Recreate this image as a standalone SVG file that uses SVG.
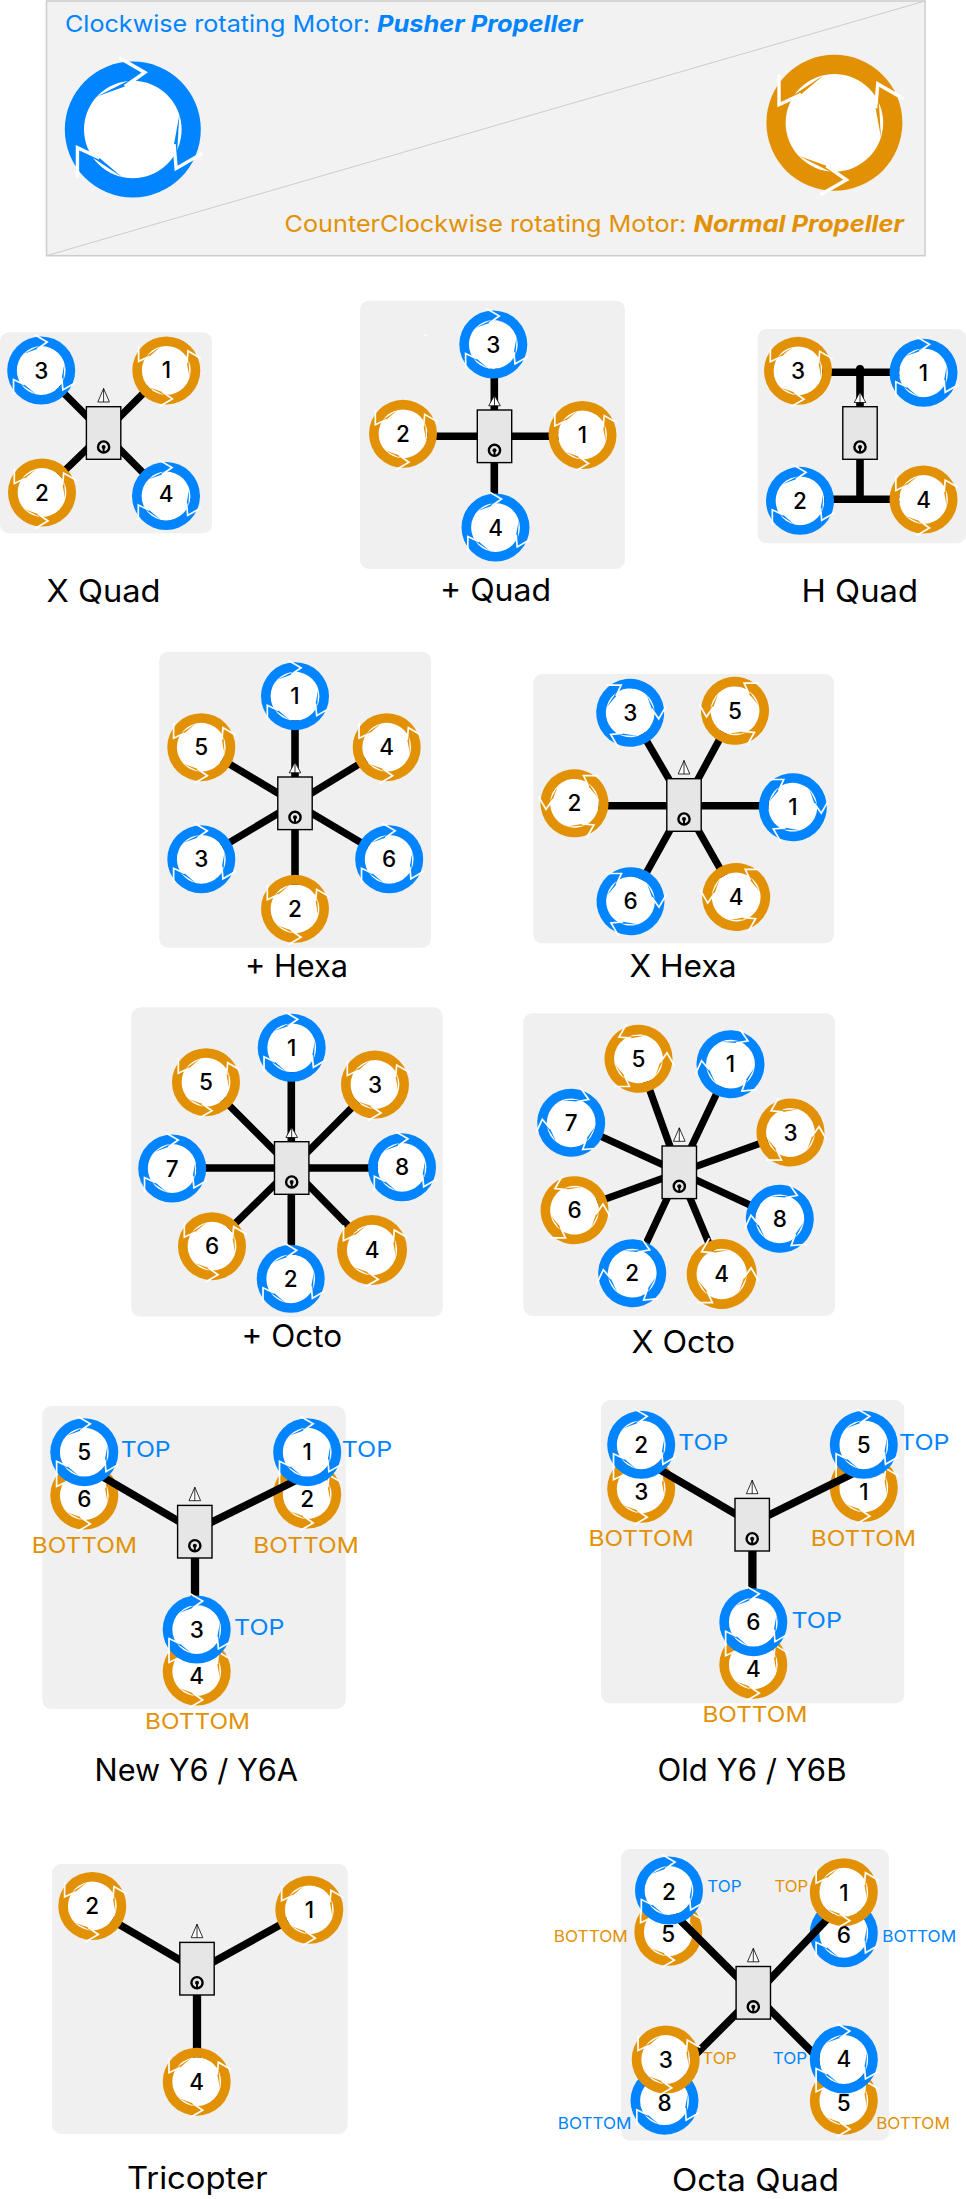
<svg xmlns="http://www.w3.org/2000/svg" width="966" height="2199" viewBox="0 0 966 2199">
<style>
text{font-family:"Inter","Liberation Sans",sans-serif}
.p{fill:#f0f0f0}
.b{fill:#0084ff}
.o{fill:#e29105}
.n{font-size:22.5px;font-weight:500;text-anchor:middle;fill:#000}
.l{font-size:30.5px;fill:#000}
.t{font-size:21.5px}
.s{font-size:16.5px}
.h{font-size:23px}
.bi{font-weight:700;font-style:italic}
.a{stroke:#000;stroke-width:7.2;fill:none}
.k{stroke:#000;stroke-width:7.6;fill:none}
.v{stroke:#000;stroke-width:8.3;fill:none}
</style>
<defs>
<g id="seg"><path d="M-4,-21.5L6,-28.5L-18,-16.5Z"/><path d="M-7,-36L6,-28.5L-4,-21.5" fill="none" stroke="#fff" stroke-width="1.7"/></g>
<g id="rg"><circle r="24.4" fill="#fff"/><path fill-rule="evenodd" d="M0,-34A34,34 0 1 1 0,34A34,34 0 1 1 0,-34ZM0,-24.4A24.4,24.4 0 1 0 0,24.4A24.4,24.4 0 1 0 0,-24.4Z"/><use href="#seg"/><use href="#seg" transform="rotate(120)"/><use href="#seg" transform="rotate(240)"/></g>
<g id="cw"><use href="#rg" class="b"/></g>
<g id="ccw"><use href="#rg" class="o" transform="scale(1 -1)"/></g>
<g id="fc"><rect x="-17.2" y="-26.3" width="34.4" height="52.6" fill="#e6e6e6" stroke="#000" stroke-width="1.4"/><circle cy="14" r="5.6" fill="#e6e6e6" stroke="#000" stroke-width="2.4"/><path d="M0,14V19.5" stroke="#000" stroke-width="2"/><circle cy="14" r="2"/></g>
<g id="tri"><path d="M0,-44.5L-5.8,-31H5.8ZM0,-44.5V-31" fill="#fff" stroke="#000" stroke-width="0.8"/></g>
<g id="trp"><path d="M0,-41L-5.8,-30.5H5.8ZM0,-41V-30.5" fill="#fff" stroke="#000" stroke-width="0.8"/></g>
</defs>
<g id="panels">
<rect x="46.5" y="1" width="878.5" height="254.7" fill="#f2f2f2" stroke="#ccc" stroke-width="1.5"/>
<path d="M46.5,255.7L925,1" stroke="#ccc" stroke-width="1" fill="none"/>
<rect class="p" x="0" y="332.3" width="212" height="201" rx="9"/>
<rect class="p" x="360" y="300.7" width="265" height="268.3" rx="9"/>
<circle cx="425.7" cy="335.3" r="1.3" fill="#fff"/>
<rect class="p" x="757.7" y="329" width="208.3" height="214.3" rx="9"/>
<rect class="p" x="159.3" y="651.7" width="271.7" height="296" rx="9"/>
<rect class="p" x="533.3" y="674" width="300.7" height="269.3" rx="9"/>
<rect class="p" x="131.3" y="1007.3" width="311.4" height="309.4" rx="9"/>
<rect class="p" x="523.3" y="1013.3" width="311.7" height="302.7" rx="9"/>
<rect class="p" x="42.3" y="1406" width="303.4" height="303" rx="9"/>
<rect class="p" x="601" y="1400" width="303.3" height="303.3" rx="9"/>
<rect class="p" x="52" y="1864" width="295.7" height="270" rx="9"/>
<rect class="p" x="621" y="1849" width="268" height="291.7" rx="9"/>
</g>
<g id="legend">
<use id="legend-cw" href="#cw" transform="translate(132.8 129.5) scale(2)"/>
<use id="legend-ccw" href="#ccw" transform="translate(834.4 122.8) scale(2)"/>
<text class="h b" y="32"><tspan x="65" textLength="312" lengthAdjust="spacingAndGlyphs">Clockwise rotating Motor: </tspan><tspan class="bi" x="377" textLength="205.7" lengthAdjust="spacingAndGlyphs">Pusher Propeller</tspan></text>
<text class="h o" y="232"><tspan x="284.5" textLength="409" lengthAdjust="spacingAndGlyphs">CounterClockwise rotating Motor: </tspan><tspan class="bi" x="693.5" textLength="210.5" lengthAdjust="spacingAndGlyphs">Normal Propeller</tspan></text>
</g>
<g id="bottom-motors">
<g id="y6a-m6" transform="translate(84.3 1495.5)"><use href="#ccw"/><text class="n" y="11.5">6</text></g>
<g id="y6a-m2" transform="translate(307.2 1494.5)"><use href="#ccw"/><text class="n" y="12">2</text></g>
<g id="y6a-m4" transform="translate(196.7 1671.5)"><use href="#ccw"/><text class="n" y="12">4</text></g>
<g id="y6b-m3" transform="translate(641.2 1488.8)"><use href="#ccw"/><text class="n" y="11.5">3</text></g>
<g id="y6b-m1" transform="translate(863.8 1487.8)"><use href="#ccw"/><text class="n" y="12">1</text></g>
<g id="y6b-m4" transform="translate(753.3 1664.8)"><use href="#ccw"/><text class="n" y="12">4</text></g>
<g id="oq-m5a" transform="translate(668.3 1931.8)"><use href="#ccw"/><text class="n" y="10">5</text></g>
<g id="oq-m6" transform="translate(843.8 1933.3)"><use href="#cw"/><text class="n" y="10">6</text></g>
<g id="oq-m8" transform="translate(664.5 2100.7)"><use href="#cw"/><text class="n" y="10">8</text></g>
<g id="oq-m5b" transform="translate(843.8 2100.7)"><use href="#ccw"/><text class="n" y="10">5</text></g>
</g>
<g id="connectors">
<path class="a" d="M41.2,370.5L103.6,433M166.3,370.4L103.6,433M42,492.5L103.6,433M166,496L103.6,433"/>
<path class="k" d="M494.3,344V528M403,436.3H582.5"/>
<path class="k" d="M860,368V499M798,372.3H923M800,499.3H923"/><circle cx="860" cy="369" r="4"/>
<path class="k" d="M295,696V909"/>
<path class="a" d="M201.3,747.2L295,803.3M201.3,859.3L295,803.3M386.7,747.2L295,803.3M389.2,859.3L295,803.3"/>
<path class="k" d="M574.5,805.7H792.8"/>
<path class="a" d="M630.2,712.8L684,805M735,710.8L684,805M630.5,901.2L684,805M736.2,897L684,805"/>
<path class="k" d="M172,1168H402M291.3,1048V1279"/>
<path class="a" d="M206,1082.2L291.7,1168M375,1084.5L291.7,1168M212,1246.2L291.7,1168M372,1250L291.7,1168"/>
<path class="a" d="M638.5,1058.8L679.3,1172.3M730.5,1064.2L679.3,1172.3M571.2,1122.8L679.3,1172.3M790.5,1132.5L679.3,1172.3M574.5,1210.2L679.3,1172.3M779.8,1218.8L679.3,1172.3M632.2,1273.2L679.3,1172.3M721.7,1274L679.3,1172.3"/>
<path class="k" d="M100,1475.2L195,1530.8M300,1478.4L195,1530.3"/><path class="v" d="M195,1531V1625"/>
<path class="k" d="M657.4,1468.2L752.4,1523.8M857.4,1471.4L752.4,1523.3"/><path class="v" d="M752.4,1524V1618"/>
<path class="k" d="M92.3,1908.7L197,1970M309.3,1908.8L197,1971"/><path class="v" d="M197,1969V2081"/>
<path class="k" d="M672,1912L753.3,1993M835,1911L753.3,1997M690,2060L753.3,1996.7M830,2070L753.3,1993"/>
</g>
<g id="bodies">
<g id="xq-fc" transform="translate(103.6 433)"><use href="#fc"/><use href="#tri"/></g>
<g id="pq-fc" transform="translate(494.5 436.3)"><use href="#fc"/><use href="#trp"/></g>
<g id="hq-fc" transform="translate(860 433)"><use href="#fc"/><use href="#trp"/></g>
<g id="ph-fc" transform="translate(295 803.3)"><use href="#fc"/><use href="#trp"/></g>
<g id="xh-fc" transform="translate(684 805)"><use href="#fc"/><use href="#tri"/></g>
<g id="po-fc" transform="translate(291.7 1168)"><use href="#fc"/><use href="#trp"/></g>
<g id="xo-fc" transform="translate(679.3 1172.3)"><use href="#fc"/><use href="#tri"/></g>
<g id="y6a-fc" transform="translate(194.8 1531.7)"><use href="#fc"/><use href="#tri"/></g>
<g id="y6b-fc" transform="translate(752.2 1524.7)"><use href="#fc"/><use href="#tri"/></g>
<g id="tr-fc" transform="translate(197 1968.7)"><use href="#fc"/><use href="#tri"/></g>
<g id="oq-fc" transform="translate(753.3 1992.8)"><use href="#fc"/><use href="#tri"/></g>
</g>
<g id="motors">
<g id="xq-m3" transform="translate(41.2 370.5)"><use href="#cw"/><text class="n" y="8">3</text></g>
<g id="xq-m1" transform="translate(166.3 370.4)"><use href="#ccw"/><text class="n" y="8">1</text></g>
<g id="xq-m2" transform="translate(42 492.5)"><use href="#ccw"/><text class="n" y="8">2</text></g>
<g id="xq-m4" transform="translate(166 496)"><use href="#cw"/><text class="n" y="6">4</text></g>
<g id="pq-m3" transform="translate(493.3 344.5)"><use href="#cw"/><text class="n" y="8">3</text></g>
<g id="pq-m2" transform="translate(403 433.8)"><use href="#ccw"/><text class="n" y="8">2</text></g>
<g id="pq-m1" transform="translate(582.5 435)"><use href="#ccw"/><text class="n" y="8">1</text></g>
<g id="pq-m4" transform="translate(495.5 527.5)"><use href="#cw"/><text class="n" y="8">4</text></g>
<g id="hq-m3" transform="translate(798 370.8)"><use href="#ccw"/><text class="n" y="8">3</text></g>
<g id="hq-m1" transform="translate(923.5 372.8)"><use href="#cw"/><text class="n" y="8">1</text></g>
<g id="hq-m2" transform="translate(800 500.8)"><use href="#cw"/><text class="n" y="8">2</text></g>
<g id="hq-m4" transform="translate(923.5 499.5)"><use href="#ccw"/><text class="n" y="8">4</text></g>
<g id="ph-m1" transform="translate(295 696.2)"><use href="#cw"/><text class="n" y="8">1</text></g>
<g id="ph-m5" transform="translate(201.3 747.2)"><use href="#ccw"/><text class="n" y="8">5</text></g>
<g id="ph-m4" transform="translate(386.7 747.2)"><use href="#ccw"/><text class="n" y="8">4</text></g>
<g id="ph-m3" transform="translate(201.3 859.3)"><use href="#cw"/><text class="n" y="8">3</text></g>
<g id="ph-m6" transform="translate(389.2 859.3)"><use href="#cw"/><text class="n" y="8">6</text></g>
<g id="ph-m2" transform="translate(295 908.8)"><use href="#ccw"/><text class="n" y="8">2</text></g>
<g id="xh-m3" transform="translate(630.2 712.8)"><use href="#cw" transform="rotate(-30)"/><text class="n" y="8">3</text></g>
<g id="xh-m5" transform="translate(735 710.8)"><use href="#ccw" transform="rotate(-30)"/><text class="n" y="8">5</text></g>
<g id="xh-m2" transform="translate(574.5 803.3)"><use href="#ccw" transform="rotate(-30)"/><text class="n" y="8">2</text></g>
<g id="xh-m1" transform="translate(792.8 807.2)"><use href="#cw" transform="rotate(-30)"/><text class="n" y="8">1</text></g>
<g id="xh-m6" transform="translate(630.5 901.2)"><use href="#cw" transform="rotate(-30)"/><text class="n" y="8">6</text></g>
<g id="xh-m4" transform="translate(736.2 897)"><use href="#ccw" transform="rotate(-30)"/><text class="n" y="8">4</text></g>
<g id="po-m1" transform="translate(291.7 1047.8)"><use href="#cw"/><text class="n" y="8">1</text></g>
<g id="po-m5" transform="translate(206 1082.2)"><use href="#ccw"/><text class="n" y="8">5</text></g>
<g id="po-m3" transform="translate(375 1084.5)"><use href="#ccw"/><text class="n" y="8">3</text></g>
<g id="po-m7" transform="translate(172.2 1168.5)"><use href="#cw"/><text class="n" y="8">7</text></g>
<g id="po-m8" transform="translate(402 1167.3)"><use href="#cw"/><text class="n" y="8">8</text></g>
<g id="po-m6" transform="translate(212 1246.2)"><use href="#ccw"/><text class="n" y="8">6</text></g>
<g id="po-m2" transform="translate(290.7 1278.8)"><use href="#cw"/><text class="n" y="8">2</text></g>
<g id="po-m4" transform="translate(372 1250)"><use href="#ccw" transform="scale(1.03)"/><text class="n" y="8">4</text></g>
<g id="xo-m5" transform="translate(638.5 1058.8)"><use href="#ccw" transform="rotate(30)"/><text class="n" y="8">5</text></g>
<g id="xo-m1" transform="translate(730.5 1064.2)"><use href="#cw" transform="rotate(25)"/><text class="n" y="8">1</text></g>
<g id="xo-m7" transform="translate(571.2 1122.8)"><use href="#cw" transform="rotate(25)"/><text class="n" y="8">7</text></g>
<g id="xo-m3" transform="translate(790.5 1132.5)"><use href="#ccw" transform="rotate(30)"/><text class="n" y="8">3</text></g>
<g id="xo-m6" transform="translate(574.5 1210.2)"><use href="#ccw" transform="rotate(30)"/><text class="n" y="8">6</text></g>
<g id="xo-m8" transform="translate(779.8 1218.8)"><use href="#cw" transform="rotate(25)"/><text class="n" y="8">8</text></g>
<g id="xo-m2" transform="translate(632.2 1273.2)"><use href="#cw" transform="rotate(25)"/><text class="n" y="8">2</text></g>
<g id="xo-m4" transform="translate(721.7 1274)"><use href="#ccw" transform="rotate(30) scale(1.03)"/><text class="n" y="8">4</text></g>
<g id="y6a-m5" transform="translate(84.3 1452.2)"><use href="#cw"/><text class="n" y="8">5</text></g>
<g id="y6a-m1" transform="translate(307.2 1452.2)"><use href="#cw"/><text class="n" y="8">1</text></g>
<g id="y6a-m3" transform="translate(196.7 1629.5)"><use href="#cw"/><text class="n" y="8">3</text></g>
<g id="y6b-m2" transform="translate(641.2 1444.8)"><use href="#cw"/><text class="n" y="8">2</text></g>
<g id="y6b-m5" transform="translate(863.8 1444.8)"><use href="#cw"/><text class="n" y="8">5</text></g>
<g id="y6b-m6" transform="translate(753.3 1622.2)"><use href="#cw"/><text class="n" y="8">6</text></g>
<g id="tr-m2" transform="translate(92.3 1906)"><use href="#ccw"/><text class="n" y="8">2</text></g>
<g id="tr-m1" transform="translate(309.3 1909.8)"><use href="#ccw"/><text class="n" y="8">1</text></g>
<g id="tr-m4" transform="translate(196.7 2081.7)"><use href="#ccw"/><text class="n" y="8">4</text></g>
<g id="oq-m2" transform="translate(669 1890.5)"><use href="#cw"/><text class="n" y="9">2</text></g>
<g id="oq-m1" transform="translate(843.8 1892.2)"><use href="#ccw"/><text class="n" y="9">1</text></g>
<g id="oq-m3" transform="translate(665.7 2059.5)"><use href="#ccw"/><text class="n" y="8.5">3</text></g>
<g id="oq-m4" transform="translate(843.8 2059.5)"><use href="#cw"/><text class="n" y="7.5">4</text></g>
</g>
<g id="labels">
<text class="l" x="46.5" y="601.7" textLength="114" lengthAdjust="spacingAndGlyphs">X Quad</text>
<text class="l" x="440" y="600.5" textLength="111" lengthAdjust="spacingAndGlyphs">+ Quad</text>
<text class="l" x="801.5" y="601.7" textLength="116.5" lengthAdjust="spacingAndGlyphs">H Quad</text>
<text class="l" x="245" y="976.7" textLength="103" lengthAdjust="spacingAndGlyphs">+ Hexa</text>
<text class="l" x="629.5" y="976.7" textLength="107" lengthAdjust="spacingAndGlyphs">X Hexa</text>
<text class="l" x="241.5" y="1347" textLength="100.5" lengthAdjust="spacingAndGlyphs">+ Octo</text>
<text class="l" x="631.5" y="1352.7" textLength="103.5" lengthAdjust="spacingAndGlyphs">X Octo</text>
<text class="l" x="94.5" y="1780.7" textLength="203.5" lengthAdjust="spacingAndGlyphs">New Y6 / Y6A</text>
<text class="l" x="657.5" y="1780.7" textLength="189" lengthAdjust="spacingAndGlyphs">Old Y6 / Y6B</text>
<text class="l" x="127" y="2188.8" textLength="140.5" lengthAdjust="spacingAndGlyphs">Tricopter</text>
<text class="l" x="672" y="2190.5" textLength="167" lengthAdjust="spacingAndGlyphs">Octa Quad</text>
<text class="t b" x="120.7" y="1456.5" textLength="50" lengthAdjust="spacingAndGlyphs">TOP</text>
<text class="t b" x="341.7" y="1456.5" textLength="50.5" lengthAdjust="spacingAndGlyphs">TOP</text>
<text class="t b" x="234" y="1634.5" textLength="50.5" lengthAdjust="spacingAndGlyphs">TOP</text>
<text class="t o" x="31.7" y="1552.8" textLength="105.3" lengthAdjust="spacingAndGlyphs">BOTTOM</text>
<text class="t o" x="253.3" y="1552.8" textLength="105.4" lengthAdjust="spacingAndGlyphs">BOTTOM</text>
<text class="t o" x="145" y="1728.8" textLength="105" lengthAdjust="spacingAndGlyphs">BOTTOM</text>
<text class="t b" x="678.3" y="1449.8" textLength="50" lengthAdjust="spacingAndGlyphs">TOP</text>
<text class="t b" x="899" y="1449.8" textLength="50.5" lengthAdjust="spacingAndGlyphs">TOP</text>
<text class="t b" x="791.4" y="1627.5" textLength="50.5" lengthAdjust="spacingAndGlyphs">TOP</text>
<text class="t o" x="588.5" y="1545.8" textLength="105.3" lengthAdjust="spacingAndGlyphs">BOTTOM</text>
<text class="t o" x="810.7" y="1545.8" textLength="105.4" lengthAdjust="spacingAndGlyphs">BOTTOM</text>
<text class="t o" x="702.4" y="1721.8" textLength="105" lengthAdjust="spacingAndGlyphs">BOTTOM</text>
<text class="s b" x="707.2" y="1891.7" textLength="34.3" lengthAdjust="spacingAndGlyphs">TOP</text>
<text class="s o" x="774.5" y="1891.7" textLength="33.7" lengthAdjust="spacingAndGlyphs">TOP</text>
<text class="s o" x="553.8" y="1941.7" textLength="74" lengthAdjust="spacingAndGlyphs">BOTTOM</text>
<text class="s b" x="882.2" y="1941.7" textLength="74" lengthAdjust="spacingAndGlyphs">BOTTOM</text>
<text class="s o" x="702.2" y="2063.7" textLength="34.3" lengthAdjust="spacingAndGlyphs">TOP</text>
<text class="s b" x="772.8" y="2063.7" textLength="34.4" lengthAdjust="spacingAndGlyphs">TOP</text>
<text class="s b" x="557.8" y="2129" textLength="73.7" lengthAdjust="spacingAndGlyphs">BOTTOM</text>
<text class="s o" x="876.2" y="2129" textLength="73.6" lengthAdjust="spacingAndGlyphs">BOTTOM</text>
</g>
</svg>
